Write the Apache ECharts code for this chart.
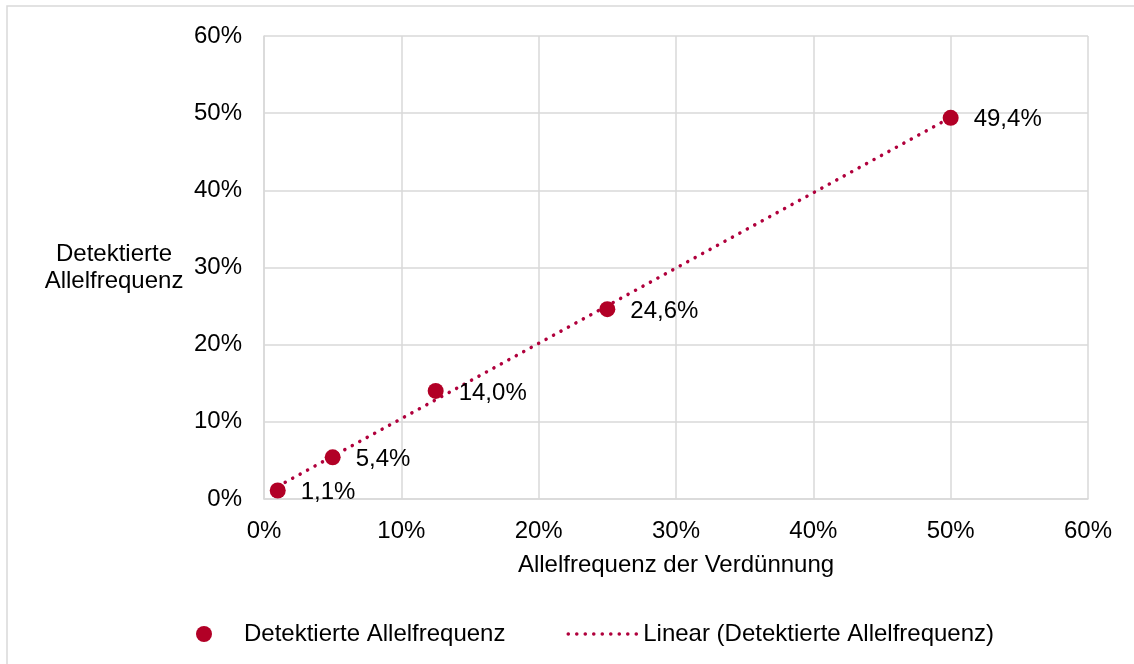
<!DOCTYPE html>
<html>
<head>
<meta charset="utf-8">
<title>Detektierte Allelfrequenz</title>
<script src="https://cdn.jsdelivr.net/npm/echarts@6/dist/echarts.min.js"></script>
<style>
  html, body { margin: 0; padding: 0; background: #ffffff; }
  #chart { width: 1134px; height: 664px; }
</style>
</head>
<body>
<div id="chart"></div>
<script>
// Allelfrequenz der Verdünnung (%) and the detected allele frequency (%)
const dilutionFreq = [1, 5, 12.5, 25, 50];
const detectedFreq = [1.1, 5.4, 14.0, 24.6, 49.4];
const axisTicks = [0, 10, 20, 30, 40, 50, 60];

const seriesName = 'Detektierte Allelfrequenz';
const trendName = 'Linear (Detektierte Allelfrequenz)';

// Least-squares fit for the linear trendline over the data range
function linearFit(xs, ys) {
  const n = xs.length;
  const mx = xs.reduce((a, b) => a + b, 0) / n;
  const my = ys.reduce((a, b) => a + b, 0) / n;
  let sxy = 0, sxx = 0;
  for (let i = 0; i < n; i++) {
    sxy += (xs[i] - mx) * (ys[i] - my);
    sxx += (xs[i] - mx) * (xs[i] - mx);
  }
  const slope = sxy / sxx;
  return { slope, intercept: my - slope * mx };
}
const fit = linearFit(dilutionFreq, detectedFreq);
const xMin = Math.min(...dilutionFreq);
const xMax = Math.max(...dilutionFreq);
const trendPoints = [xMin, xMax].map(x => [x, fit.intercept + fit.slope * x]);

const points = dilutionFreq.map((x, i) => [x, detectedFreq[i]]);

const FONT = '"Liberation Sans", Arial, sans-serif';
const TEXT = '#000000';
const GRID = '#d9d9d9';
const MARK = '#b20026';
const TREND = '#b0003c';
const FS = 24;
const DOTS = { color: TREND, width: 3.5, type: [0.1, 8.4], cap: 'round' };

const pct = v => v + '%';
const deComma = v => v.toFixed(1).replace('.', ',') + '%';

const chart = echarts.init(document.getElementById('chart'), null, { renderer: 'canvas' });

chart.setOption({
  backgroundColor: '#ffffff',
  animation: false,
  textStyle: { fontFamily: FONT, color: TEXT },
  graphic: [{
    type: 'rect',
    shape: { x: 7, y: 6, width: 1200, height: 700 },
    style: { fill: 'none', stroke: GRID, lineWidth: 1.5 },
    silent: true
  }],
  grid: { left: 264, right: 46, top: 36, bottom: 165 },
  xAxis: {
    type: 'value',
    min: axisTicks[0],
    max: axisTicks[axisTicks.length - 1],
    interval: 10,
    name: 'Allelfrequenz der Verdünnung',
    nameLocation: 'middle',
    nameGap: 66,
    nameTextStyle: { fontFamily: FONT, fontSize: FS, color: TEXT, verticalAlign: 'middle' },
    axisLine: { show: true, lineStyle: { color: GRID, width: 1.5 } },
    axisTick: { show: false },
    axisLabel: { formatter: pct, fontFamily: FONT, fontSize: FS, color: TEXT, margin: 20 },
    splitLine: { show: true, lineStyle: { color: GRID, width: 1.5 } }
  },
  yAxis: {
    type: 'value',
    min: axisTicks[0],
    max: axisTicks[axisTicks.length - 1],
    interval: 10,
    name: 'Detektierte\nAllelfrequenz',
    nameLocation: 'middle',
    nameRotate: 0,
    nameGap: 150,
    nameTextStyle: {
      fontFamily: FONT, fontSize: FS, color: TEXT,
      align: 'center', verticalAlign: 'middle', lineHeight: 27,
      padding: [2, 0, 0, 0]
    },
    axisLine: { show: true, lineStyle: { color: GRID, width: 1.5 } },
    axisTick: { show: false },
    axisLabel: {
      formatter: pct, fontFamily: FONT, fontSize: FS, color: TEXT, margin: 22,
      padding: [9, 0, 0, 0]
    },
    splitLine: { show: true, lineStyle: { color: GRID, width: 1.5 } }
  },
  legend: {
    left: 191,
    top: 617,
    itemWidth: 70,
    itemHeight: 16,
    itemGap: 61,
    textStyle: { fontFamily: FONT, fontSize: FS, color: TEXT },
    data: [
      { name: seriesName, icon: 'circle' },
      { name: trendName, itemStyle: { opacity: 0 }, lineStyle: DOTS }
    ]
  },
  series: [
    {
      name: trendName,
      type: 'line',
      data: trendPoints,
      showSymbol: false,
      symbol: 'none',
      z: 2,
      lineStyle: DOTS,
      itemStyle: { color: TREND }
    },
    {
      name: seriesName,
      type: 'scatter',
      data: points,
      symbol: 'circle',
      symbolSize: 16,
      z: 3,
      itemStyle: { color: MARK, opacity: 1 },
      label: {
        show: true,
        position: 'right',
        distance: 15,
        offset: [0, 2],
        fontFamily: FONT,
        fontSize: FS,
        color: TEXT,
        formatter: p => deComma(p.value[1])
      }
    }
  ]
});
</script>
</body>
</html>
